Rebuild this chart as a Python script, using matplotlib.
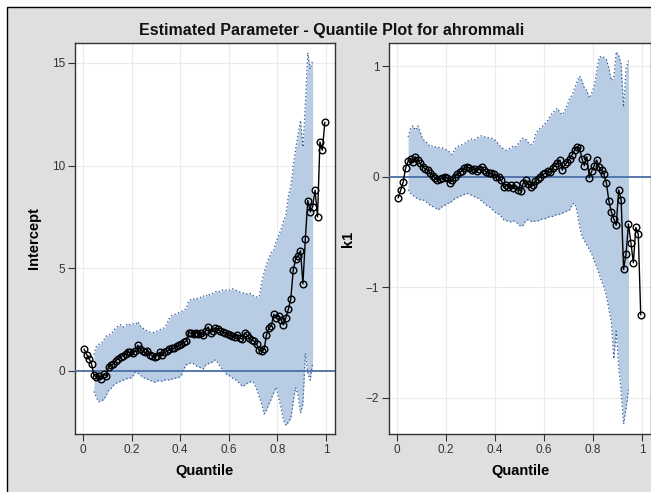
import matplotlib
matplotlib.use("Agg")
import matplotlib.pyplot as plt
from matplotlib.patches import Rectangle

plt.rcParams['font.family'] = ['Liberation Sans', 'DejaVu Sans']

title = "Estimated Parameter - Quantile Plot for ahrommali"

# quantile levels of the estimates
quantiles = [0.005, 0.015, 0.025, 0.035, 0.045, 0.055, 0.065, 0.075, 0.085, 0.095,
             0.105, 0.115, 0.125, 0.135, 0.145, 0.155, 0.165, 0.175, 0.185, 0.195,
             0.205, 0.215, 0.225, 0.235, 0.245, 0.255, 0.265, 0.275, 0.285, 0.295,
             0.305, 0.315, 0.325, 0.335, 0.345, 0.355, 0.365, 0.375, 0.385, 0.395,
             0.405, 0.415, 0.425, 0.435, 0.445, 0.455, 0.465, 0.475, 0.485, 0.495,
             0.505, 0.515, 0.525, 0.535, 0.545, 0.555, 0.565, 0.575, 0.585, 0.595,
             0.605, 0.615, 0.625, 0.635, 0.645, 0.655, 0.665, 0.675, 0.685, 0.695,
             0.705, 0.715, 0.725, 0.735, 0.745, 0.755, 0.765, 0.775, 0.785, 0.795,
             0.805, 0.815, 0.825, 0.835, 0.845, 0.855, 0.865, 0.875, 0.885, 0.895,
             0.905, 0.915, 0.925, 0.935, 0.945, 0.955, 0.965, 0.975, 0.985, 0.995]

# quantile levels where the confidence band exists
band_q = quantiles[4:95]

intercept_est = [1.05, 0.80, 0.60, 0.35, -0.20, -0.30, -0.25, -0.40, -0.15, -0.25,
                 0.20, 0.30, 0.35, 0.50, 0.60, 0.70, 0.75, 0.85, 0.90, 0.92,
                 0.88, 0.95, 1.25, 1.05, 0.95, 0.90, 0.95, 0.80, 0.75, 0.70,
                 0.75, 0.90, 0.80, 0.90, 0.95, 1.05, 1.10, 1.10, 1.20, 1.25,
                 1.30, 1.40, 1.45, 1.85, 1.85, 1.80, 1.85, 1.80, 1.85, 1.75,
                 1.95, 2.15, 1.85, 1.95, 2.10, 2.05, 1.95, 1.90, 1.85, 1.80,
                 1.75, 1.70, 1.65, 1.75, 1.60, 1.55, 1.85, 1.75, 1.60, 1.50,
                 1.45, 1.30, 1.00, 0.95, 1.05, 1.75, 2.10, 2.20, 2.75, 2.60,
                 2.70, 2.50, 2.25, 2.60, 3.00, 3.50, 4.90, 5.45, 5.60, 5.85,
                 4.25, 6.45, 8.30, 7.75, 8.00, 8.80, 7.50, 11.15, 10.75, 12.10]

intercept_upper = [0.8, 1.2, 1.3, 1.35, 1.5, 1.7, 1.75, 1.8, 1.95, 2.1,
                   2.2, 2.25, 2.15, 2.2, 2.3, 2.25, 2.3, 2.25, 2.4, 2.2,
                   2.1, 2.0, 1.95, 1.9, 1.85, 1.9, 1.95, 2.0, 2.05, 2.1,
                   2.3, 2.55, 2.7, 2.75, 2.8, 2.85, 2.9, 2.95, 3.05, 3.4,
                   3.5, 3.5, 3.55, 3.5, 3.6, 3.65, 3.6, 3.75, 3.7, 3.8,
                   3.85, 3.9, 3.85, 3.95, 3.95, 3.9, 3.95, 4.0, 3.95, 3.9,
                   3.85, 3.8, 3.8, 3.75, 3.8, 3.7, 3.65, 3.6, 3.6, 4.3,
                   4.8, 5.2, 5.5, 5.8, 5.9, 6.3, 6.6, 6.9, 7.3, 7.6,
                   8.5, 9.0, 10.0, 10.8, 11.5, 12.2, 10.9, 13.0, 15.5, 14.7,
                   15.1]

intercept_lower = [-1.0, -1.3, -1.5, -1.45, -1.4, -1.2, -0.95, -0.85, -0.7, -0.6,
                   -0.55, -0.5, -0.45, -0.4, -0.35, -0.35, -0.25, -0.05, -0.1, -0.2,
                   -0.3, -0.35, -0.4, -0.45, -0.5, -0.55, -0.5, -0.45, -0.5, -0.45,
                   -0.4, -0.45, -0.4, -0.35, -0.35, -0.3, -0.2, 0.1, 0.3, 0.35,
                   0.4, 0.35, 0.25, 0.2, 0.15, 0.1, 0.3, 0.35, 0.4, 0.45,
                   0.55, 0.4, 0.2, 0.05, -0.1, -0.2, -0.25, -0.35, -0.4, -0.5,
                   -0.6, -0.75, -0.7, -0.6, -0.55, -0.5, -0.6, -0.9, -1.25, -1.6,
                   -2.1, -1.9, -1.6, -1.35, -1.05, -0.8, -1.3, -1.8, -2.4, -2.65,
                   -2.5, -2.3, -1.5, -0.8, -1.2, -2.05, -1.6, 0.85, -0.1, -0.45,
                   0.4]

k1_est = [-0.19, -0.12, -0.05, 0.08, 0.14, 0.16, 0.13, 0.18, 0.15, 0.12,
          0.09, 0.07, 0.06, 0.03, 0.01, -0.01, -0.03, -0.02, -0.01, 0.00,
          -0.01, -0.06, -0.03, 0.00, 0.02, 0.04, 0.05, 0.08, 0.09, 0.08,
          0.06, 0.07, 0.05, 0.07, 0.09, 0.06, 0.04, 0.03, 0.03, 0.02,
          0.00, 0.00, -0.03, -0.09, -0.08, -0.09, -0.08, -0.10, -0.08, -0.12,
          -0.13, -0.06, -0.03, -0.07, -0.09, -0.08, -0.04, -0.02, 0.00, 0.02,
          0.03, 0.05, 0.04, 0.08, 0.10, 0.12, 0.15, 0.06, 0.11, 0.13,
          0.16, 0.20, 0.24, 0.27, 0.26, 0.16, 0.10, 0.18, -0.01, 0.05,
          0.10, 0.15, 0.09, 0.06, 0.02, -0.06, -0.22, -0.32, -0.38, -0.44,
          -0.12, -0.21, -0.84, -0.70, -0.43, -0.60, -0.78, -0.46, -0.52, -1.25]

k1_upper = [0.36, 0.44, 0.46, 0.42, 0.46, 0.40, 0.34, 0.32, 0.30, 0.27,
            0.28, 0.27, 0.27, 0.26, 0.26, 0.25, 0.24, 0.22, 0.20, 0.25,
            0.27, 0.28, 0.29, 0.30, 0.32, 0.33, 0.34, 0.33, 0.35, 0.36,
            0.37, 0.36, 0.36, 0.35, 0.35, 0.34, 0.32, 0.29, 0.27, 0.25,
            0.24, 0.25, 0.26, 0.28, 0.27, 0.30, 0.33, 0.35, 0.34, 0.31,
            0.29, 0.30, 0.38, 0.42, 0.44, 0.46, 0.48, 0.51, 0.55, 0.58,
            0.60, 0.62, 0.58, 0.56, 0.60, 0.65, 0.71, 0.74, 0.80, 0.86,
            0.91, 0.87, 0.80, 0.78, 0.71, 0.76, 0.82, 0.95, 1.08, 1.09,
            1.08, 1.06, 0.98, 0.87, 0.90, 1.13, 1.10, 1.02, 0.63, 0.98,
            1.05]

k1_lower = [-0.12, -0.15, -0.17, -0.19, -0.20, -0.21, -0.21, -0.22, -0.24, -0.26,
            -0.27, -0.28, -0.30, -0.29, -0.27, -0.26, -0.24, -0.24, -0.22, -0.20,
            -0.19, -0.18, -0.17, -0.16, -0.15, -0.16, -0.17, -0.18, -0.19, -0.20,
            -0.22, -0.24, -0.26, -0.27, -0.29, -0.31, -0.33, -0.34, -0.36, -0.39,
            -0.40, -0.40, -0.41, -0.40, -0.41, -0.43, -0.45, -0.44, -0.40, -0.39,
            -0.40, -0.41, -0.40, -0.40, -0.39, -0.38, -0.38, -0.37, -0.36, -0.36,
            -0.35, -0.34, -0.34, -0.33, -0.32, -0.31, -0.30, -0.25, -0.24, -0.31,
            -0.45, -0.54, -0.58, -0.62, -0.66, -0.70, -0.76, -0.82, -0.88, -0.95,
            -1.00, -1.08, -1.20, -1.32, -1.65, -1.40, -1.72, -1.95, -2.24, -2.10,
            -1.93]

x_ticks = [0, 0.2, 0.4, 0.6, 0.8, 1]
x_tick_labels = ["0", "0.2", "0.4", "0.6", "0.8", "1"]
intercept_ticks = [0, 5, 10, 15]
k1_ticks = [-2, -1, 0, 1]

fill_color = '#b8cce4'
edge_color = '#2f5597'
ref_color = '#4a6fa5'
axis_color = '#333333'

fig = plt.figure(figsize=(6.51, 4.92), dpi=100)
fig.patch.set_facecolor('white')
# gray window area with black top/left border
fig.patches.append(Rectangle((7 / 651, -0.05), 1.0, 1.05 - 7 / 492,
                             transform=fig.transFigure, facecolor='#dfdfdf',
                             edgecolor='black', linewidth=1.0, zorder=-10))

fig.text(332 / 651, 1 - 31 / 492, title, ha='center', va='center',
         fontsize=11.5, fontweight='bold', color='#111111')


def draw_panel(ax, est, upper, lower, ylabel, yticks, ylim):
    ax.set_facecolor('white')
    ax.fill_between(band_q, lower, upper, color=fill_color, linewidth=0, zorder=1)
    ax.plot(band_q, upper, linestyle=(0, (1, 2)), color=edge_color, linewidth=0.9, zorder=2)
    ax.plot(band_q, lower, linestyle=(0, (1, 2)), color=edge_color, linewidth=0.9, zorder=2)
    ax.axhline(0, color=ref_color, linewidth=1.3, zorder=3)
    ax.plot(quantiles, est, color='black', linewidth=1.0, marker='o',
            markersize=4.8, markerfacecolor='none', markeredgecolor='black',
            markeredgewidth=1.0, zorder=4)
    ax.set_xlim(-0.033, 1.037)
    ax.set_ylim(*ylim)
    ax.set_xticks(x_ticks)
    ax.set_xticklabels(x_tick_labels)
    ax.set_yticks(yticks)
    ax.grid(True, color='#ebebeb', linewidth=0.8, zorder=0)
    ax.set_axisbelow(True)
    for s in ax.spines.values():
        s.set_color(axis_color)
        s.set_linewidth(1.0)
    ax.tick_params(direction='out', length=5, width=0.8, color=axis_color,
                   labelsize=8.5, labelcolor='#333333', pad=2)
    ax.set_xlabel('Quantile', fontsize=10.5, fontweight='bold', labelpad=6)
    ax.set_ylabel(ylabel, fontsize=10.5, fontweight='bold', labelpad=8)


ax1 = fig.add_axes([75 / 651, 58 / 492, 260 / 651, 391 / 492])
draw_panel(ax1, intercept_est, intercept_upper, intercept_lower,
           'Intercept', intercept_ticks, (-3.07, 15.97))

ax2 = fig.add_axes([389 / 651, 58 / 492, 262 / 651, 391 / 492])
draw_panel(ax2, k1_est, k1_upper, k1_lower, 'k1', k1_ticks, (-2.33, 1.21))

fig.savefig('out.png', dpi=100, facecolor=fig.get_facecolor())
